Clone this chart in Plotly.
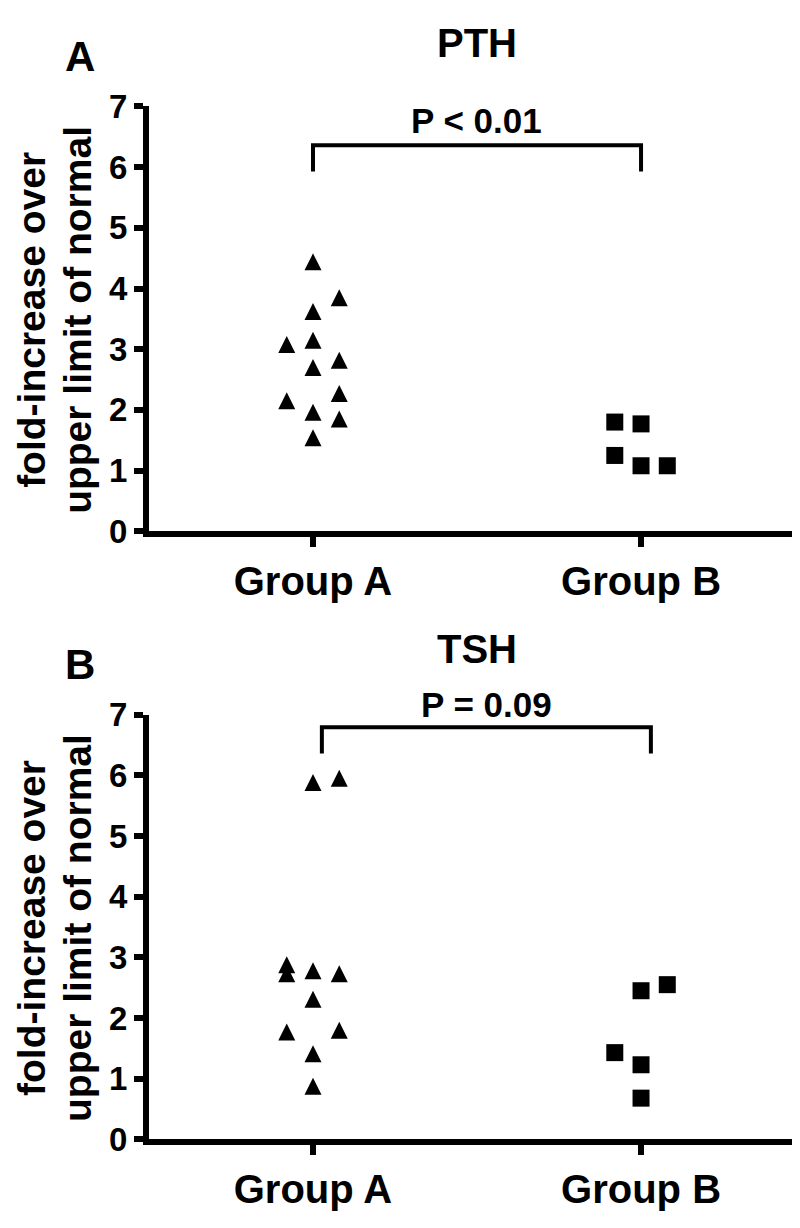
import plotly.graph_objects as go

# ---------------- data ----------------
groups = ["Group A", "Group B"]
y_ticks = [0, 1, 2, 3, 4, 5, 6, 7]

# Panel A (PTH)
pth_a_values = [4.44, 3.85, 3.62, 3.08, 3.15, 2.70, 2.82, 2.15, 2.27, 1.96, 1.85, 1.54]
pth_a_cols   = [0, 1, 0, -1, 0, 0, 1, -1, 1, 0, 1, 0]
pth_b_values = [1.80, 1.77, 1.25, 1.08, 1.08]
pth_b_cols   = [-1, 0, -1, 0, 1]

# Panel B (TSH)
tsh_a_values = [5.88, 5.95, 2.88, 2.73, 2.78, 2.73, 2.31, 1.77, 1.80, 1.41, 0.875]
tsh_a_cols   = [0, 1, -1, -1, 0, 1, 0, -1, 1, 0, 0]
tsh_b_values = [2.45, 2.55, 1.43, 1.23, 0.68]
tsh_b_cols   = [0, 1, -1, 0, 0]

pth_bracket_x = [0.0, 0.0, 1.0, 1.0]
pth_bracket_y = [5.93, 6.36, 6.36, 5.93]
tsh_bracket_x = [0.027, 0.027, 1.03, 1.03]
tsh_bracket_y = [6.36, 6.79, 6.79, 6.36]

titles = ["PTH", "TSH"]
p_labels = ["P < 0.01", "P = 0.09"]
panel_letters = ["A", "B"]
y_title_lines = ["fold-increase over", "upper limit of normal"]

# ---------------- style ----------------
W, H = 800, 1228
FONT = "Liberation Sans, Arial, sans-serif"
JIT = 0.08
MS = 17

def px_x(p):
    return p / W

def px_y(p):
    return 1 - p / H

fig = go.Figure()

def add_panel(ax_suffix, a_vals, a_cols, b_vals, b_cols, bx, by):
    xa = "x" + ax_suffix
    ya = "y" + ax_suffix
    # arrow-down rotated 180deg with standoff = half size -> upward triangle centred on the point
    fig.add_trace(go.Scatter(
        x=[0 + c * JIT for c in a_cols], y=a_vals, mode="markers",
        marker=dict(symbol="arrow-down", angle=180, size=MS, color="black",
                    standoff=MS / 2, line=dict(width=0)),
        xaxis=xa, yaxis=ya, showlegend=False, cliponaxis=False))
    fig.add_trace(go.Scatter(
        x=[1 + c * JIT for c in b_cols], y=b_vals, mode="markers",
        marker=dict(symbol="square", size=MS, color="black", line=dict(width=0)),
        xaxis=xa, yaxis=ya, showlegend=False, cliponaxis=False))
    fig.add_trace(go.Scatter(
        x=bx, y=by, mode="lines", line=dict(color="black", width=4),
        xaxis=xa, yaxis=ya, showlegend=False, cliponaxis=False))

add_panel("", pth_a_values, pth_a_cols, pth_b_values, pth_b_cols, pth_bracket_x, pth_bracket_y)
add_panel("2", tsh_a_values, tsh_a_cols, tsh_b_values, tsh_b_cols, tsh_bracket_x, tsh_bracket_y)

x_dom = [px_x(141), 1.0]
xr = [-0.5, 1.509]
domA = [px_y(521), px_y(83)]
domB = [px_y(1148), px_y(710)]

def xaxis(anchor):
    return dict(domain=x_dom, range=xr, anchor=anchor, tickmode="array",
                tickvals=[0, 1], ticktext=groups, showline=True, linewidth=6,
                linecolor="black", ticks="outside", ticklen=10, tickwidth=6,
                tickcolor="black", showgrid=False, zeroline=False,
                tickfont=dict(family=FONT, size=40, color="black", weight="bold"))

def yaxis(anchor, dom):
    return dict(domain=dom, range=[0, 7], anchor=anchor, tickmode="array",
                tickvals=y_ticks, showline=True, linewidth=6, linecolor="black",
                ticks="outside", ticklen=9, tickwidth=6, tickcolor="black",
                showgrid=False, zeroline=False,
                tickfont=dict(family=FONT, size=33, color="black", weight="bold"))

annotations = []
for i, (top, pcenter_x, pcenter_y, tcenter_y) in enumerate([(83, 468, 97, 18), (710, 478, 700, 642)]):
    annotations.append(dict(text=titles[i], x=px_x(469), y=px_y(tcenter_y), xref="paper", yref="paper",
                            showarrow=False, xanchor="center", yanchor="middle",
                            font=dict(family=FONT, size=40, color="black", weight="bold")))
    annotations.append(dict(text=p_labels[i], x=px_x(pcenter_x), y=px_y(pcenter_y), xref="paper", yref="paper",
                            showarrow=False, xanchor="center", yanchor="middle",
                            font=dict(family=FONT, size=35, color="black", weight="bold")))
    annotations.append(dict(text=panel_letters[i], x=px_x(72), y=px_y(top - 52), xref="paper", yref="paper",
                            showarrow=False, xanchor="center", yanchor="middle",
                            font=dict(family=FONT, size=42, color="black", weight="bold")))
    for j, xc in enumerate([24, 70]):
        annotations.append(dict(text=y_title_lines[j], x=px_x(xc), y=px_y(top + 220), xref="paper",
                                yref="paper", showarrow=False, xanchor="center", yanchor="middle",
                                textangle=-90,
                                font=dict(family=FONT, size=39, color="black", weight="bold")))

fig.update_layout(
    width=W, height=H, margin=dict(l=0, r=0, t=0, b=0),
    paper_bgcolor="white", plot_bgcolor="white",
    xaxis=xaxis("y"), yaxis=yaxis("x", domA),
    xaxis2=xaxis("y2"), yaxis2=yaxis("x2", domB),
    annotations=annotations,
)

fig.write_html("out.html")
